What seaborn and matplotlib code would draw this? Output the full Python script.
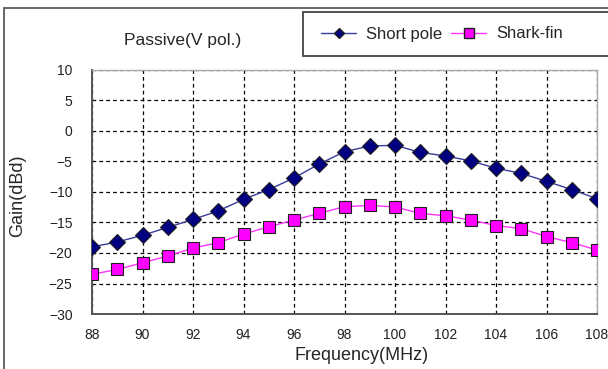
import matplotlib
matplotlib.use("Agg")
import matplotlib.pyplot as plt
import seaborn as sns
import pandas as pd
from matplotlib.patches import Rectangle
from matplotlib.lines import Line2D

freq = [88, 89, 90, 91, 92, 93, 94, 95, 96, 97, 98, 99, 100, 101, 102, 103, 104, 105, 106, 107, 108]
short_pole = [-19.0, -18.2, -17.1, -15.8, -14.5, -13.1, -11.2, -9.6, -7.7, -5.4, -3.4,
              -2.45, -2.35, -3.5, -4.1, -4.9, -6.1, -6.95, -8.25, -9.6, -11.1]
shark_fin = [-23.5, -22.7, -21.6, -20.5, -19.2, -18.3, -16.9, -15.7, -14.6, -13.5, -12.4,
             -12.2, -12.45, -13.5, -13.9, -14.6, -15.5, -16.0, -17.3, -18.3, -19.5]
series_names = ["Short pole", "Shark-fin"]
x_ticks = [88, 90, 92, 94, 96, 98, 100, 102, 104, 106, 108]
y_ticks = [-30, -25, -20, -15, -10, -5, 0, 5, 10]

df = pd.DataFrame({
    "Frequency": freq * 2,
    "Gain": short_pole + shark_fin,
    "Series": [series_names[0]] * len(freq) + [series_names[1]] * len(freq),
})

sns.set_style("white")
plt.rcParams["font.family"] = ["Liberation Sans", "DejaVu Sans"]

W, H = 608, 369
fig = plt.figure(figsize=(W / 100, H / 100), dpi=100)
ax = fig.add_axes([92 / W, 1 - 314 / H, (597 - 92) / W, (314 - 70) / H])

palette = {"Short pole": "#3a3a9a", "Shark-fin": "#ff33ff"}
face = {"Short pole": "#000080", "Shark-fin": "#ff00ff"}
sns.lineplot(data=df, x="Frequency", y="Gain", hue="Series", style="Series",
             palette=palette, markers={"Short pole": "D", "Shark-fin": "s"},
             dashes=False, linewidth=1.0, ax=ax, legend=False, zorder=3)
for ln, name in zip(ax.get_lines(), series_names):
    ln.set_markerfacecolor(face[name])
    ln.set_markeredgecolor("#202020")
    ln.set_markeredgewidth(0.8)
    ln.set_markersize(8 if name == "Short pole" else 9)

ax.set_xlim(88, 108)
ax.set_ylim(-30, 10)
ax.set_xticks(x_ticks)
ax.set_yticks(y_ticks)
ax.grid(True, color="black", linestyle=(0, (3, 2.5)), linewidth=0.9)
ax.set_axisbelow(True)
ax.tick_params(axis="both", labelsize=10, length=0, colors="#222222")
ax.tick_params(axis="x", pad=10)
ax.tick_params(axis="y", pad=14)
for side in ["left", "bottom"]:
    ax.spines[side].set_color("#555555")
    ax.spines[side].set_linewidth(1.4)
for side in ["top", "right"]:
    ax.spines[side].set_color("#aaaaaa")
    ax.spines[side].set_linewidth(1.0)

ax.set_xlabel("")
ax.set_ylabel("")
fig.text(362 / W, 1 - 355 / H, "Frequency(MHz)", fontsize=13, ha="center", va="center")
fig.text(18 / W, 1 - 196 / H, "Gain(dBd)", fontsize=13, ha="center", va="center",
         rotation=90)

# outer frame
fig.patches.append(Rectangle((4 / W, -0.05), 1.2, 1.05 - 8 / H, transform=fig.transFigure,
                             fill=False, edgecolor="#666666", linewidth=1.4))

fig.text(183 / W, 1 - 40 / H, "Passive(V pol.)", fontsize=12.5, ha="center", va="center")

# legend box
fig.patches.append(Rectangle((303 / W, 1 - 56 / H), 1.0, 44 / H, transform=fig.transFigure,
                             facecolor="white", edgecolor="#444444", linewidth=1.3))
handles = [Line2D([], [], color=palette[n], marker=("D" if n == "Short pole" else "s"),
                  markerfacecolor=face[n], markeredgecolor="#202020",
                  markersize=(5 if n == "Short pole" else 7), linewidth=1.0)
           for n in series_names]
leg = fig.legend(handles, series_names, loc="center left",
                 bbox_to_anchor=(321 / W, 1 - 34 / H), ncol=2, fontsize=12,
                 frameon=False, handlelength=2.1, handletextpad=0.6,
                 columnspacing=0.55, borderpad=0, borderaxespad=0,
                 bbox_transform=fig.transFigure)

fig.savefig("out.png", dpi=100)
